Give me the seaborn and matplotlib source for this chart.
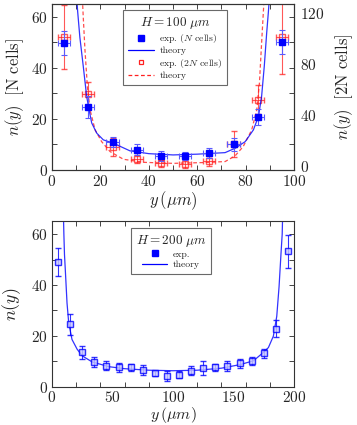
import matplotlib
matplotlib.use("Agg")
import matplotlib.pyplot as plt
import matplotlib.transforms as mtransforms
import seaborn as sns
from matplotlib.lines import Line2D
from matplotlib.ticker import MultipleLocator

# ---------------- data: H = 100 um ----------------
y_100 = [5, 15, 25, 35, 45, 55, 65, 75, 85, 95]
xerr_100 = [2.5, 2.5, 2.5, 2.5, 2.5, 2.5, 2.5, 2.5, 2.5, 2.5]
n_N = [49.8, 24.7, 10.9, 8.0, 5.6, 5.4, 6.8, 10.1, 20.7, 50.2]
n_N_err = [4.7, 4.4, 2.0, 2.0, 2.0, 1.5, 2.0, 2.5, 3.0, 4.7]
n_2N = [104.0, 59.3, 18.1, 8.4, 5.2, 4.7, 7.1, 20.5, 55.0, 104.5]
n_2N_err = [25.0, 10.0, 7.2, 3.0, 3.0, 3.0, 4.0, 10.4, 11.4, 29.0]

theory_N_y = [10.0, 10.6, 11.5, 12.9, 14.3, 15.3, 16.4, 18.5, 21.2, 25.3, 32.2,
              40.0, 50.0, 60.0, 71.5, 75.6, 79.8, 83.2, 85.3, 86.6, 87.7,
              88.7, 89.4, 90.0]
theory_N_n = [70.0, 62.0, 52.0, 40.7, 28.9, 23.6, 18.4, 14.4, 11.8, 10.5, 7.5,
              6.4, 5.9, 6.2, 6.8, 8.5, 11.1, 15.7, 21.0, 28.9, 40.7,
              53.8, 62.0, 70.0]
theory_2N_y = [12.4, 12.9, 13.6, 14.6, 15.7, 17.8, 20.5, 24.0, 29.5, 38.0, 50.0,
               62.0, 71.5, 75.6, 79.0, 82.5, 84.6, 85.7, 86.6, 87.2, 87.8]
theory_2N_n = [140.0, 120.0, 94.4, 65.6, 47.2, 31.4, 22.2, 14.4, 8.4, 6.0, 5.2,
               5.8, 6.6, 11.0, 18.4, 31.4, 47.2, 68.2, 99.8, 120.0, 140.0]

# ---------------- data: H = 200 um ----------------
y_200 = [5, 15, 25, 35, 45, 55, 65, 75, 85, 95,
         105, 115, 125, 135, 145, 155, 165, 175, 185, 195]
n_200 = [49.0, 24.5, 13.5, 9.8, 8.3, 7.6, 7.6, 6.6, 5.3, 4.2,
         4.8, 6.3, 7.3, 7.6, 8.3, 9.2, 10.2, 13.1, 22.9, 53.2]
n_200_err = [5.5, 4.0, 2.5, 2.0, 1.8, 1.8, 1.3, 1.8, 1.0, 1.8,
             1.3, 1.8, 2.8, 1.5, 2.0, 1.8, 1.5, 1.8, 3.5, 6.5]
theory_200_y = [9.3, 9.8, 10.3, 11.0, 12.4, 13.8, 16.5, 20.7, 24.8, 33.0, 46.8,
                60.0, 80.0, 100.0, 120.0, 140.0, 155.4, 166.4, 174.7, 178.8,
                182.9, 185.7, 187.6, 189.2, 190.2, 190.7]
theory_200_n = [70.0, 60.0, 52.0, 45.8, 32.9, 25.1, 18.6, 14.8, 12.2, 9.8, 7.9,
                7.1, 6.5, 6.3, 6.5, 7.3, 8.7, 10.2, 13.5, 15.4,
                19.9, 27.7, 39.3, 52.3, 60.0, 70.0]

sns.set_style("ticks")
plt.rcParams.update({
    "font.family": ["cmr10", "DejaVu Serif"],
    "mathtext.fontset": "cm",
    "axes.formatter.use_mathtext": True,
    "axes.unicode_minus": False,
    "xtick.direction": "in",
    "ytick.direction": "in",
    "axes.linewidth": 0.8,
    "axes.edgecolor": "#333333",
})

BLUE = "#0000ff"
LBLUE = "#5a5aff"
RED = "#ff2020"
TICK_FS = 11
LAB_FS = 12

fig = plt.figure(figsize=(3.57, 4.25), dpi=100)

# ================= top panel =================
ax1 = fig.add_axes([0.1457, 0.600, 0.678, 0.3906])
ax2 = ax1.twinx()
ax1.set_zorder(ax2.get_zorder() + 1)
ax1.patch.set_visible(False)

# red (2N) on right axis
sns.lineplot(x=theory_2N_y, y=theory_2N_n, ax=ax2, color=RED, lw=0.9,
             linestyle=(0, (3, 2)), sort=False, estimator=None, alpha=0.8)
ax2.errorbar(y_100, n_2N, yerr=n_2N_err, xerr=xerr_100, fmt="s", ms=5,
             mfc="none", mec=RED, mew=1.0, ecolor=RED, elinewidth=0.8,
             capsize=2, capthick=0.8, alpha=0.75)
ax2.set_ylim(0, 130)
ax2.set_xlim(0, 100)

# blue (N) on left axis
sns.lineplot(x=theory_N_y, y=theory_N_n, ax=ax1, color=BLUE, lw=0.9,
             sort=False, estimator=None, alpha=0.8)
ax1.errorbar(y_100, n_N, yerr=n_N_err, xerr=xerr_100, fmt="s", ms=5,
             mfc=BLUE, mec=BLUE, ecolor=LBLUE, elinewidth=0.8,
             capsize=2, capthick=0.8)
ax1.set_xlim(0, 100)
ax1.set_ylim(0, 65)

ax1.xaxis.set_major_locator(MultipleLocator(20))
ax1.xaxis.set_minor_locator(MultipleLocator(10))
ax1.yaxis.set_major_locator(MultipleLocator(20))
ax1.yaxis.set_minor_locator(MultipleLocator(10))
ax2.yaxis.set_major_locator(MultipleLocator(40))
ax2.yaxis.set_minor_locator(MultipleLocator(20))
ax1.tick_params(which="both", top=True, right=False, labelsize=TICK_FS,
                length=3.5, width=0.6)
ax1.tick_params(axis="x", pad=3)
ax1.tick_params(axis="y", pad=3)
ax2.tick_params(which="both", left=False, right=True, labelsize=TICK_FS,
                length=3.5, width=0.6, pad=4)
shift = mtransforms.ScaledTranslation(0, 4 / 100, fig.dpi_scale_trans)
for t in ax2.get_yticklabels():
    t.set_transform(t.get_transform() + shift)
ax1.set_xlabel(r"$y\,(\mu m)$", fontsize=LAB_FS, labelpad=0)
ax1.set_ylabel(r"$n(y)\ \ [\mathrm{N\ cells}]$", fontsize=LAB_FS, labelpad=4)
ax2.set_ylabel(r"$n(y)\ \ [\mathrm{2N\ cells}]$", fontsize=LAB_FS, labelpad=6)

h_top = [
    Line2D([], [], ls="none", marker="s", ms=4, mfc=BLUE, mec=BLUE),
    Line2D([], [], color=BLUE, lw=0.9),
    Line2D([], [], ls="none", marker="s", ms=3.5, mfc="none", mec=RED, mew=0.9),
    Line2D([], [], color=RED, lw=0.9, ls=(0, (3, 2))),
]
lab_top = [r"exp. ($N$ cells)", "theory", r"exp. ($2N$ cells)", "theory"]
leg1 = ax1.legend(h_top, lab_top, title=r"$H = 100\ \mu m$",
                  loc="upper left", bbox_to_anchor=(0.295, 0.965),
                  fontsize=7, title_fontsize=9.5, frameon=True, fancybox=False,
                  edgecolor="#444444", handlelength=2.6, handletextpad=0.6,
                  labelspacing=0.15, borderpad=0.5, borderaxespad=0)
leg1.get_frame().set_linewidth(0.8)

# ================= bottom panel =================
ax3 = fig.add_axes([0.1457, 0.0900, 0.678, 0.389])
sns.lineplot(x=theory_200_y, y=theory_200_n, ax=ax3, color=BLUE, lw=0.9,
             sort=False, estimator=None, alpha=0.8)
ax3.errorbar(y_200, n_200, yerr=n_200_err, fmt="s", ms=4.5,
             mfc="#c8c8ff", mec=BLUE, mew=1.0, ecolor=BLUE, elinewidth=0.8,
             capsize=2.5, capthick=0.8, alpha=0.8)
ax3.set_xlim(0, 200)
ax3.set_ylim(0, 65)
ax3.xaxis.set_major_locator(MultipleLocator(50))
ax3.xaxis.set_minor_locator(MultipleLocator(20))
ax3.yaxis.set_major_locator(MultipleLocator(20))
ax3.yaxis.set_minor_locator(MultipleLocator(10))
ax3.tick_params(which="both", top=True, right=True, labelsize=TICK_FS, width=0.6)
ax3.tick_params(axis="x", which="major", length=0, pad=2)
ax3.tick_params(axis="x", which="minor", length=3.5)
ax3.tick_params(axis="y", which="both", length=3.5, pad=3)
ax3.set_xlabel(r"$y\,(\mu m)$", fontsize=11.5, labelpad=0.5)
ax3.set_ylabel(r"$n(y)$", fontsize=LAB_FS + 1, labelpad=6)

h_bot = [
    Line2D([], [], ls="none", marker="s", ms=4, mfc=BLUE, mec=BLUE),
    Line2D([], [], color=BLUE, lw=0.9),
]
leg3 = ax3.legend(h_bot, ["exp.", "theory"], title=r"$H = 200\ \mu m$",
                  loc="upper left", bbox_to_anchor=(0.326, 0.962),
                  fontsize=7, title_fontsize=9.5, frameon=True, fancybox=False,
                  edgecolor="#444444", handlelength=2.6, handletextpad=0.6,
                  labelspacing=0.15, borderpad=0.5, borderaxespad=0)
leg3.get_frame().set_linewidth(0.8)

fig.savefig("out.png", dpi=100)
